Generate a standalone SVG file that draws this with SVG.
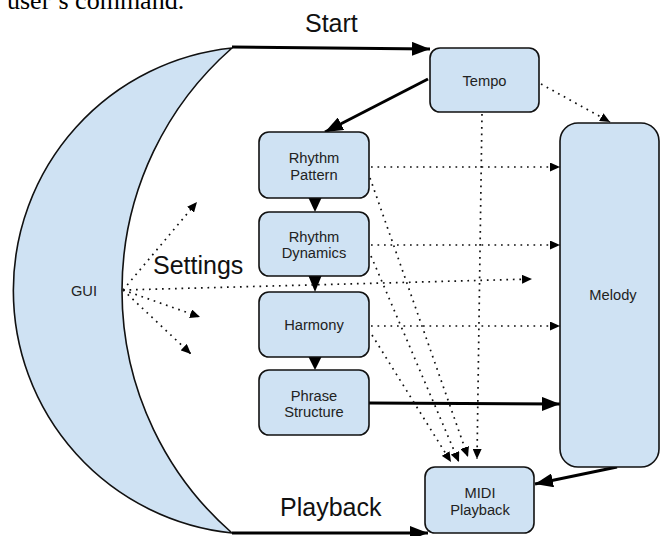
<svg xmlns="http://www.w3.org/2000/svg" width="662" height="536" viewBox="0 0 662 536">
<defs>
<style>
.node{fill:#cfe2f3;stroke:#111;stroke-width:1.6}
.lbl{font-family:"Liberation Sans",Arial,sans-serif;font-size:14.7px;fill:#222;text-anchor:middle}
.big{font-family:"Liberation Sans",Arial,sans-serif;font-size:25px;fill:#111}
.thick{stroke:#000;stroke-width:3;fill:none}
.dot{stroke:#111;stroke-width:1.7;fill:none;stroke-dasharray:1.7 4.8}
</style>
<marker id="ab" markerUnits="userSpaceOnUse" markerWidth="18" markerHeight="14" refX="18" refY="7" orient="auto"><path d="M0,0 L18,7 L0,14 z" fill="#000"/></marker>
<marker id="as" markerUnits="userSpaceOnUse" markerWidth="10" markerHeight="9" refX="10" refY="4.5" orient="auto"><path d="M0,0 L10,4.5 L0,9 z" fill="#000"/></marker>
</defs>
<rect width="662" height="536" fill="#fff"/>
<text x="7" y="9" font-family="'Liberation Serif','Times New Roman',serif" font-size="26" fill="#000">user’s command.</text>

<g id="gui">
<path class="node" d="M232,48 A243.8,243.8 0 0 0 232,533 A322.3,322.3 0 0 1 232,48 Z"/>
<text class="lbl" x="84" y="296">GUI</text>
</g>

<g id="connectors">
<line class="thick" x1="232" y1="47" x2="430" y2="49" marker-end="url(#ab)"/>
<line class="thick" x1="232" y1="533" x2="428" y2="533" marker-end="url(#ab)"/>
<line class="thick" x1="428" y1="79" x2="325" y2="132" marker-end="url(#ab)"/>
<line class="thick" x1="369" y1="403" x2="560" y2="404" marker-end="url(#ab)"/>
<line class="thick" x1="617" y1="467" x2="535" y2="484" marker-end="url(#ab)"/>
<path d="M308.5,198 L321.5,198 L315,212 Z" fill="#000"/>
<path d="M308.5,276 L321.5,276 L315,292 Z" fill="#000"/>
<path d="M308.5,357 L321.5,357 L315,370 Z" fill="#000"/>
<line class="dot" x1="541" y1="84" x2="610" y2="122" marker-end="url(#as)"/>
<line class="dot" x1="482" y1="114" x2="477" y2="459" marker-end="url(#as)"/>
<line class="dot" x1="371" y1="167" x2="560" y2="167" marker-end="url(#as)"/>
<line class="dot" x1="371" y1="245" x2="560" y2="245" marker-end="url(#as)"/>
<line class="dot" x1="371" y1="326" x2="560" y2="326" marker-end="url(#as)"/>
<line class="dot" x1="123" y1="290" x2="532" y2="279" marker-end="url(#as)"/>
<line class="dot" x1="123" y1="290" x2="197" y2="202" marker-end="url(#as)"/>
<line class="dot" x1="123" y1="290" x2="200" y2="317" marker-end="url(#as)"/>
<line class="dot" x1="123" y1="290" x2="191" y2="354" marker-end="url(#as)"/>
<line class="dot" x1="370" y1="178" x2="468" y2="457" marker-end="url(#as)"/>
<line class="dot" x1="371" y1="256" x2="459" y2="462" marker-end="url(#as)"/>
<line class="dot" x1="372" y1="335" x2="451" y2="462" marker-end="url(#as)"/>
</g>

<g id="tempo">
<rect class="node" x="430" y="48" width="109" height="64" rx="10"/>
<text class="lbl" x="484.5" y="86">Tempo</text>
</g>
<g id="rhythm-pattern">
<rect class="node" x="259" y="132" width="110" height="66" rx="10"/>
<text class="lbl" x="314" y="163">Rhythm</text>
<text class="lbl" x="314" y="180">Pattern</text>
</g>
<g id="rhythm-dynamics">
<rect class="node" x="259" y="212" width="110" height="64" rx="10"/>
<text class="lbl" x="314" y="242">Rhythm</text>
<text class="lbl" x="314" y="258">Dynamics</text>
</g>
<g id="harmony">
<rect class="node" x="259" y="292" width="110" height="65" rx="10"/>
<text class="lbl" x="314" y="330">Harmony</text>
</g>
<g id="phrase-structure">
<rect class="node" x="259" y="370" width="110" height="65" rx="10"/>
<text class="lbl" x="314" y="401">Phrase</text>
<text class="lbl" x="314" y="417">Structure</text>
</g>
<g id="melody">
<rect class="node" x="560" y="123" width="99" height="344" rx="18"/>
<text class="lbl" x="613" y="300">Melody</text>
</g>
<g id="midi-playback">
<rect class="node" x="425" y="467" width="109" height="66" rx="10"/>
<text class="lbl" x="480" y="498">MIDI</text>
<text class="lbl" x="480" y="515">Playback</text>
</g>

<text class="big" x="305" y="32">Start</text>
<text class="big" x="153" y="274">Settings</text>
<text class="big" x="280" y="516">Playback</text>
</svg>
